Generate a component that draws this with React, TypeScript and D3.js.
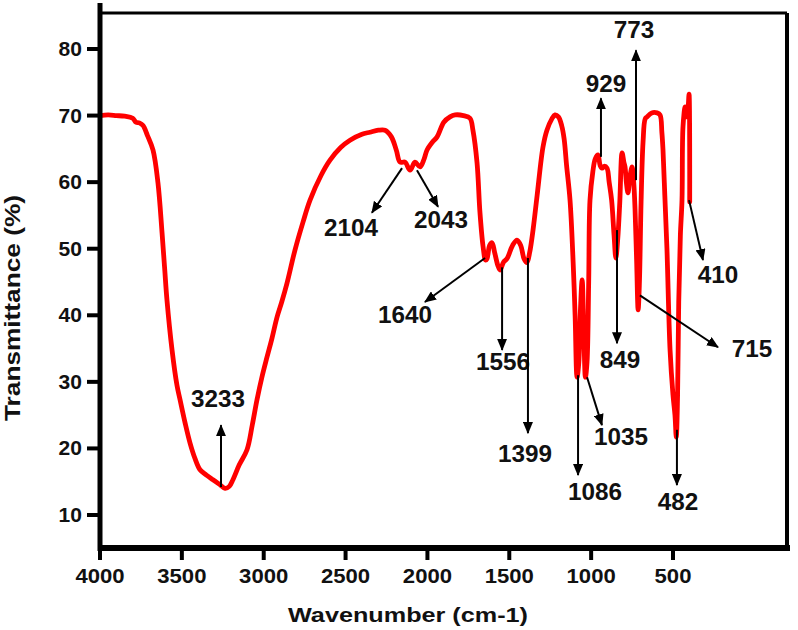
import React from "react";
import * as d3 from "d3";

// FTIR spectrum: wavenumber (cm-1) and transmittance (%)
const wavenumbers = [
  4000, 3950, 3900, 3850, 3800, 3780, 3760, 3737, 3710, 3676, 3646, 3621, 3605, 3591, 3560, 3530, 3511, 3480,
  3450, 3420, 3389, 3350, 3310, 3270, 3236, 3210, 3188, 3150, 3102, 3070, 3041, 3010, 2980, 2950, 2919, 2890,
  2858, 2809, 2760, 2717, 2650, 2595, 2530, 2473, 2400, 2351, 2300, 2259, 2220, 2190, 2167, 2137, 2106, 2076,
  2045, 2020, 2003, 1970, 1941, 1900, 1862, 1831, 1780, 1740, 1722, 1697, 1679, 1660, 1645, 1636, 1620, 1605,
  1590, 1570, 1556, 1535, 1514, 1480, 1453, 1430, 1410, 1392, 1375, 1355, 1330, 1294, 1270, 1240, 1221, 1200,
  1180, 1165, 1150, 1129, 1110, 1098, 1086, 1075, 1065, 1055, 1045, 1035, 1025, 1015, 1007, 990, 975, 958,
  945, 933, 918, 903, 890, 875, 860, 849, 838, 825, 811, 800, 793, 785, 775, 762, 750, 740, 732, 722, 713,
  705, 695, 683, 670, 659, 630, 597, 579, 568, 561, 550, 537, 518, 500, 488, 480, 472, 465, 455, 445, 439,
  426, 418, 410, 402, 398,
];
const transmittance = [
  70.0, 70.1, 70.0, 69.9, 69.6, 69.0, 68.9, 68.5, 67.0, 64.8, 59.9, 52.4, 47.0, 42.3, 34.8, 29.5, 27.3, 23.8,
  20.8, 18.5, 16.8, 16.0, 15.3, 14.6, 14.0, 14.3, 15.3, 17.5, 19.8, 23.5, 27.3, 30.8, 33.7, 36.5, 39.7, 42.0,
  44.8, 49.8, 54.0, 57.3, 61.0, 63.3, 65.2, 66.3, 67.2, 67.5, 67.8, 67.8, 66.8, 64.8, 63.0, 63.0, 61.8, 63.0,
  62.3, 63.5, 64.8, 66.0, 66.8, 69.0, 69.8, 70.1, 70.0, 69.6, 67.8, 62.9, 55.4, 50.3, 48.3, 48.5, 50.5, 50.9,
  49.5, 47.5, 46.8, 48.0, 48.5, 50.5, 51.3, 50.5, 48.5, 47.9, 49.5, 52.8, 58.0, 65.3, 67.8, 69.5, 70.1, 69.8,
  68.5, 66.5, 62.5, 57.3, 48.0, 40.0, 30.7, 33.0, 41.0, 45.3, 38.0, 30.7, 33.0, 45.0, 57.3, 61.5, 63.5, 64.1,
  62.5, 62.1, 62.4, 62.1, 60.0, 57.3, 52.0, 48.6, 51.3, 57.0, 64.4, 63.0, 62.3, 60.0, 58.4, 61.0, 62.3, 60.0,
  56.0, 48.0, 40.8, 45.0, 57.0, 66.0, 69.5, 69.8, 70.4, 70.4, 70.1, 67.5, 64.8, 58.0, 50.0, 34.8, 28.0, 25.0,
  21.7, 28.0, 42.0, 52.0, 57.3, 68.3, 71.3, 69.8, 70.5, 73.2, 57.0,
];

const xTicks = [4000, 3500, 3000, 2500, 2000, 1500, 1000, 500];
const yTicks = [10, 20, 30, 40, 50, 60, 70, 80];

// Peak annotations: label, arrow start (w, T), arrow end (w, T), label anchor (w, T)
const peakLabels = ["3233", "2104", "2043", "1640", "1556", "1399", "1086", "1035", "929", "773", "849", "715", "482", "410"];
const arrowFrom = [
  [3261, 14.2], [2155, 62.1], [2064, 61.8], [1648, 48.6], [1544, 47.2], [1386, 48.6], [1080, 31.0],
  [1025, 30.7], [940, 63.8], [726, 60.3], [842, 52.8], [702, 43.0], [476, 22.8], [402, 57.3],
];
const arrowTo = [
  [3261, 23.5], [2339, 55.4], [1935, 56.3], [2015, 42.0], [1544, 34.8], [1386, 22.3], [1080, 16.0],
  [934, 23.5], [940, 72.6], [726, 79.8], [842, 35.8], [225, 35.2], [476, 14.5], [317, 48.3],
];
const labelAt = [
  [3279, 26.2], [2467, 51.9], [1917, 53.1], [2137, 38.8], [1538, 31.8], [1404, 18.0], [977, 12.3],
  [818, 20.5], [909, 73.5], [738, 81.6], [824, 32.1], [18, 33.7], [470, 10.75], [225, 44.8],
];

const W = 798;
const H = 630;
const FONT = "Arial, 'Liberation Sans', Helvetica, sans-serif";

export default function App() {
  const x = d3.scaleLinear().domain([4000, 500]).range([100, 673]);
  const y = d3.scaleLinear().domain([10, 80]).range([515, 49]);

  const left = 100;
  const right = 787;
  const top = 13;
  const bottom = 548;

  const data = wavenumbers.map((w, i) => [w, transmittance[i]] as [number, number]);
  const line = d3
    .line<[number, number]>()
    .x((d) => x(d[0]))
    .y((d) => y(d[1]))
    .curve(d3.curveCatmullRom.alpha(0.5));

  return (
    <svg
      width={W}
      height={H}
      viewBox={`0 0 ${W} ${H}`}
      style={{ position: "absolute", left: 0, top: 0, background: "#fff" }}
    >
      <defs>
        <marker
          id="ah"
          markerUnits="userSpaceOnUse"
          markerWidth={12}
          markerHeight={10}
          refX={11}
          refY={5}
          orient="auto"
        >
          <path d="M0,0 L12,5 L0,10 Z" fill="#000" />
        </marker>
      </defs>
      <rect x={0} y={0} width={W} height={H} fill="#fff" />

      {/* spectrum */}
      <path d={line(data) || ""} fill="none" stroke="#ff0000" strokeWidth={4.8} strokeLinejoin="round" strokeLinecap="round" />

      {/* frame */}
      <line x1={left} x2={right} y1={top} y2={top} stroke="#000" strokeWidth={3} />
      <line x1={right} x2={right} y1={top} y2={bottom} stroke="#000" strokeWidth={4} />
      <line x1={left} x2={left} y1={3} y2={bottom + 3} stroke="#000" strokeWidth={5} />
      <line x1={left - 2} x2={right + 3} y1={bottom} y2={bottom} stroke="#000" strokeWidth={6} />

      {/* x ticks */}
      {xTicks.map((t) => (
        <g key={"xt" + t}>
          <line x1={x(t)} x2={x(t)} y1={bottom} y2={bottom + 12} stroke="#000" strokeWidth={4} />
          <text
            x={x(t)}
            y={583}
            textAnchor="middle"
            fontFamily={FONT}
            fontWeight="bold"
            fontSize={21}
            fill="#111"
            textLength={String(t).length * 12.3}
            lengthAdjust="spacingAndGlyphs"
          >
            {t}
          </text>
        </g>
      ))}

      {/* y ticks */}
      {yTicks.map((t) => (
        <g key={"yt" + t}>
          <line x1={left - 13} x2={left} y1={y(t)} y2={y(t)} stroke="#000" strokeWidth={4} />
          <text
            x={82}
            y={y(t) + 7}
            textAnchor="end"
            fontFamily={FONT}
            fontWeight="bold"
            fontSize={20}
            fill="#111"
            textLength={String(t).length * 11.7}
            lengthAdjust="spacingAndGlyphs"
          >
            {t}
          </text>
        </g>
      ))}

      {/* axis titles */}
      <text
        x={408}
        y={622}
        textAnchor="middle"
        fontFamily={FONT}
        fontWeight="bold"
        fontSize={21}
        fill="#111"
        textLength={240}
        lengthAdjust="spacingAndGlyphs"
      >
        Wavenumber (cm-1)
      </text>
      <text
        transform="translate(20,308) rotate(-90)"
        textAnchor="middle"
        fontFamily={FONT}
        fontWeight="bold"
        fontSize={22}
        fill="#111"
        textLength={226}
        lengthAdjust="spacingAndGlyphs"
      >
        Transmittance (%)
      </text>

      {/* annotations */}
      {peakLabels.map((lab, i) => (
        <g key={"an" + lab}>
          <line
            x1={x(arrowFrom[i][0])}
            y1={y(arrowFrom[i][1])}
            x2={x(arrowTo[i][0])}
            y2={y(arrowTo[i][1])}
            stroke="#000"
            strokeWidth={2}
            markerEnd="url(#ah)"
          />
          <text
            x={x(labelAt[i][0])}
            y={y(labelAt[i][1])}
            textAnchor="middle"
            fontFamily={FONT}
            fontWeight="bold"
            fontSize={23}
            fill="#111"
            textLength={lab.length * 13.5}
            lengthAdjust="spacingAndGlyphs"
          >
            {lab}
          </text>
        </g>
      ))}
    </svg>
  );
}
